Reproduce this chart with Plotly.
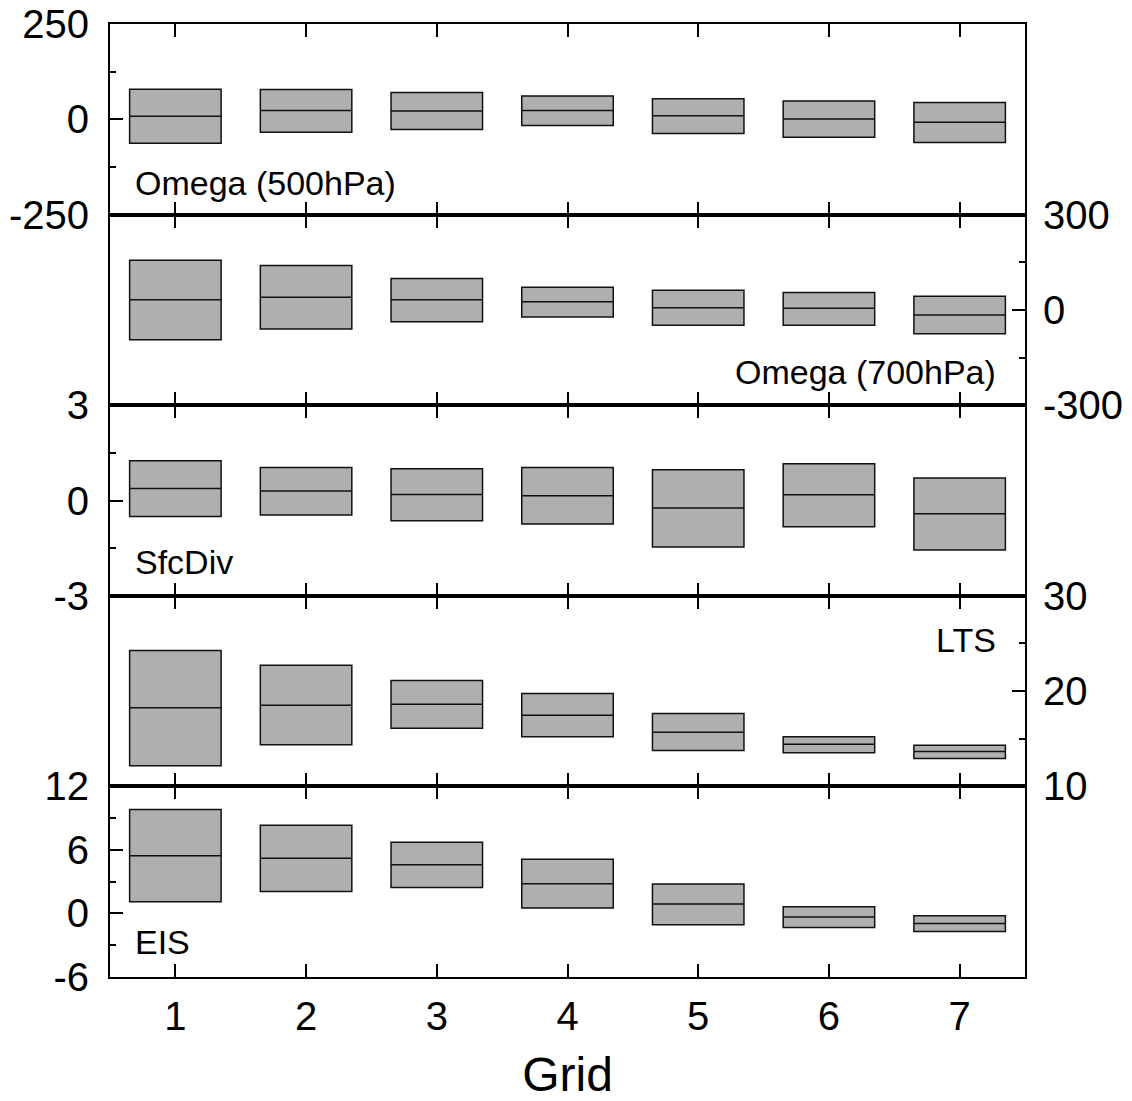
import plotly.graph_objects as go

grid = [1, 2, 3, 4, 5, 6, 7]

# Omega (500hPa)
om500_hi = [79, 78, 70, 61, 54, 48, 44]
om500_med = [8, 23, 22, 23, 9, 1, -8]
om500_lo = [-63, -34, -27, -16, -37, -47, -61]
om500_ticks = [-250, 0, 250]

# Omega (700hPa)
om700_hi = [156, 140, 99, 71, 62, 55, 43]
om700_med = [32, 40, 32, 26, 7, 5, -16]
om700_lo = [-94, -60, -37, -22, -48, -48, -75]
om700_ticks = [-300, 0, 300]

# SfcDiv
sfc_hi = [1.25, 1.04, 1.0, 1.04, 0.97, 1.16, 0.71]
sfc_med = [0.38, 0.30, 0.19, 0.15, -0.24, 0.18, -0.42]
sfc_lo = [-0.5, -0.46, -0.64, -0.74, -1.46, -0.83, -1.56]
sfc_ticks = [-3, 0, 3]

# LTS
lts_hi = [24.27, 22.70, 21.10, 19.74, 17.64, 15.20, 14.32]
lts_med = [18.24, 18.51, 18.62, 17.47, 15.69, 14.43, 13.66]
lts_lo = [12.17, 14.37, 16.11, 15.20, 13.77, 13.53, 12.93]
lts_ticks = [10, 20, 30]

# EIS
eis_hi = [9.82, 8.33, 6.72, 5.11, 2.78, 0.63, -0.22]
eis_med = [5.46, 5.21, 4.61, 2.81, 0.89, -0.34, -0.95]
eis_lo = [1.10, 2.08, 2.46, 0.51, -1.07, -1.33, -1.70]
eis_ticks = [-6, 0, 6, 12]

panels = [
    dict(name="Omega (500hPa)", hi=om500_hi, med=om500_med, lo=om500_lo,
         ticks=om500_ticks, rng=[-250, 250], minor=125, side="left",
         ax=0.025, ay=0.168, xanchor="left"),
    dict(name="Omega (700hPa)", hi=om700_hi, med=om700_med, lo=om700_lo,
         ticks=om700_ticks, rng=[-300, 300], minor=150, side="right",
         ax=0.970, ay=0.176, xanchor="right"),
    dict(name="SfcDiv", hi=sfc_hi, med=sfc_med, lo=sfc_lo,
         ticks=sfc_ticks, rng=[-3, 3], minor=1.5, side="left",
         ax=0.025, ay=0.178, xanchor="left"),
    dict(name="LTS", hi=lts_hi, med=lts_med, lo=lts_lo,
         ticks=lts_ticks, rng=[10, 30], minor=5, side="right",
         ax=0.970, ay=0.77, xanchor="right"),
    dict(name="EIS", hi=eis_hi, med=eis_med, lo=eis_lo,
         ticks=eis_ticks, rng=[-6, 12], minor=3, side="left",
         ax=0.025, ay=0.184, xanchor="left"),
]

FONT = "Liberation Sans, Arial, sans-serif"
fig = go.Figure()
layout = dict(
    width=1132, height=1101,
    margin=dict(l=110, r=107, t=24, b=124, autoexpand=False),
    paper_bgcolor="white", plot_bgcolor="white",
    showlegend=False, boxmode="overlay",
    font=dict(family=FONT, size=38, color="black"),
    annotations=[],
)

n = len(panels)
for i, p in enumerate(panels):
    k = i + 1
    xa = "x" if k == 1 else f"x{k}"
    ya = "y" if k == 1 else f"y{k}"
    fig.add_trace(go.Box(
        x=grid, q1=p["lo"], median=p["med"], q3=p["hi"],
        lowerfence=p["lo"], upperfence=p["hi"],
        width=0.7, whiskerwidth=0,
        fillcolor="#afafaf", line=dict(color="#111111", width=1.5),
        boxpoints=False, hoverinfo="skip",
        xaxis=xa, yaxis=ya,
    ))
    top = 1 - i / n
    bot = 1 - (i + 1) / n
    xdict = dict(
        domain=[0, 1], anchor=ya, range=[0.5, 7.5], automargin=False,
        tickmode="array", tickvals=grid, ticktext=[str(g) for g in grid],
        ticks="inside", ticklen=13, tickwidth=2, tickcolor="black",
        showline=True, linewidth=2, linecolor="black", mirror="ticks",
        showgrid=False, zeroline=False,
        showticklabels=(k == n),
        tickfont=dict(size=40),
        ticklabelstandoff=3,
        ticklabeloverflow="allow",
    )
    if k == n:
        xdict["title"] = dict(text="Grid", font=dict(size=48), standoff=27)
    if k != 1:
        xdict["matches"] = "x"
    layout["xaxis" if k == 1 else f"xaxis{k}"] = xdict
    layout["yaxis" if k == 1 else f"yaxis{k}"] = dict(
        domain=[bot, top], anchor=xa, range=p["rng"], side=p["side"],
        automargin=False,
        tickmode="array", tickvals=p["ticks"],
        ticktext=[str(t) for t in p["ticks"]],
        ticks="inside", ticklen=13, tickwidth=2, tickcolor="black",
        minor=dict(ticks="inside", ticklen=6, tickwidth=2, tickcolor="black",
                   tickmode="linear", tick0=0, dtick=p["minor"], showgrid=False),
        showline=True, linewidth=2, linecolor="black", mirror=True,
        showgrid=False, zeroline=False,
        tickfont=dict(size=40),
        ticklabelstandoff=11 if p["side"] == "left" else 8,
        ticklabeloverflow="allow",
    )
    layout["annotations"].append(dict(
        text=p["name"], xref=f"{xa} domain", yref=f"{ya} domain",
        x=p["ax"], y=p["ay"], xanchor=p["xanchor"], yanchor="middle",
        showarrow=False, font=dict(size=34, color="black"),
    ))

fig.update_layout(**layout)
fig.write_html("out.html",
               config={"displayModeBar": False, "staticPlot": True},
               post_script="document.body.style.margin='0';document.body.style.overflow='hidden';")
